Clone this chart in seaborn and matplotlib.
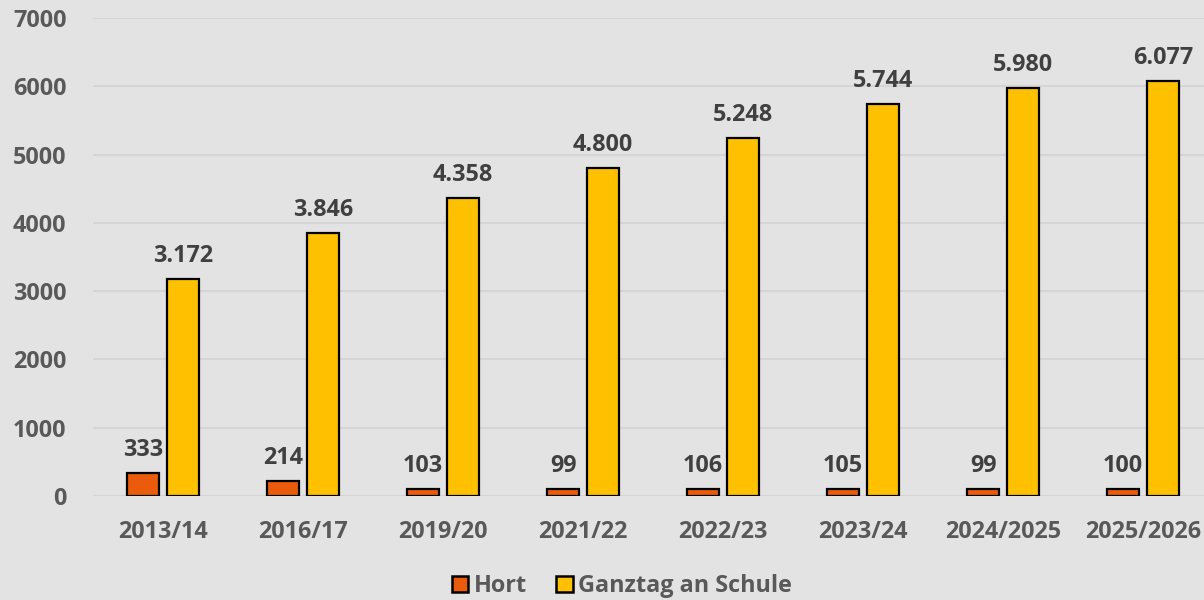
import pandas as pd
import numpy as np
import matplotlib.pyplot as plt
import seaborn as sns

years = ['2013/14', '2016/17', '2019/20', '2021/22', '2022/23', '2023/24', '2024/2025', '2025/2026']
hort = [333, 214, 103, 99, 106, 105, 99, 100]
ganztag = [3172, 3846, 4358, 4800, 5248, 5744, 5980, 6077]
series_names = ['Hort', 'Ganztag an Schule']
colors = ['#EA5B0C', '#FFC000']

BG = '#E3E3E3'
TICK_COLOR = '#595959'
LABEL_COLOR = '#404040'
FONT = ['Open Sans', 'DejaVu Sans']

df = pd.DataFrame({
    'Jahr': years * 2,
    'Art': [series_names[0]] * len(years) + [series_names[1]] * len(years),
    'Anzahl': hort + ganztag,
})

sns.set_theme(style='white')
plt.rcParams['font.family'] = FONT
plt.rcParams['font.weight'] = 'bold'

fig = plt.figure(figsize=(12.04, 6), dpi=100, facecolor=BG)
ax = fig.add_axes([93 / 1204, 104 / 600, 1120 / 1204, 478 / 600])
ax.set_facecolor(BG)

sns.barplot(data=df, x='Jahr', y='Anzahl', hue='Art', palette=colors, saturation=1,
            width=0.571, gap=0.2, edgecolor='black', linewidth=1.6, ax=ax)

ax.set_xlim(-0.5, 7.5)
ax.set_ylim(0, 7000)
ax.set_yticks(np.arange(0, 7001, 1000))
ax.yaxis.grid(True, color='#D5D5D5', linewidth=1.5)
ax.set_axisbelow(True)
for s in ax.spines.values():
    s.set_visible(False)
ax.set_xlabel('')
ax.set_ylabel('')
ax.tick_params(axis='y', length=0, pad=19, labelsize=16.8, labelcolor=TICK_COLOR)
ax.tick_params(axis='x', length=0, pad=17, labelsize=16.8, labelcolor=TICK_COLOR)
for t in ax.get_xticklabels() + ax.get_yticklabels():
    t.set_fontweight('bold')

fmt = lambda v: f'{v:,}'.replace(',', '.')
for cont, vals in zip(ax.containers, [hort, ganztag]):
    ax.bar_label(cont, labels=[fmt(v) for v in vals], padding=8,
                 fontsize=16.8, color=LABEL_COLOR, fontweight='bold')

leg = ax.legend(loc='center', bbox_to_anchor=(622 / 1204, 14 / 600), bbox_transform=fig.transFigure,
                ncol=2, frameon=False, handlelength=0.7, handleheight=0.7,
                handletextpad=0.25, columnspacing=1.25, labelcolor=TICK_COLOR,
                prop={'family': FONT, 'weight': 'bold', 'size': 16.8})
for h in leg.legend_handles:
    h.set_edgecolor('black')
    h.set_linewidth(1.8)

fig.savefig('out.png', dpi=100, facecolor=BG)
